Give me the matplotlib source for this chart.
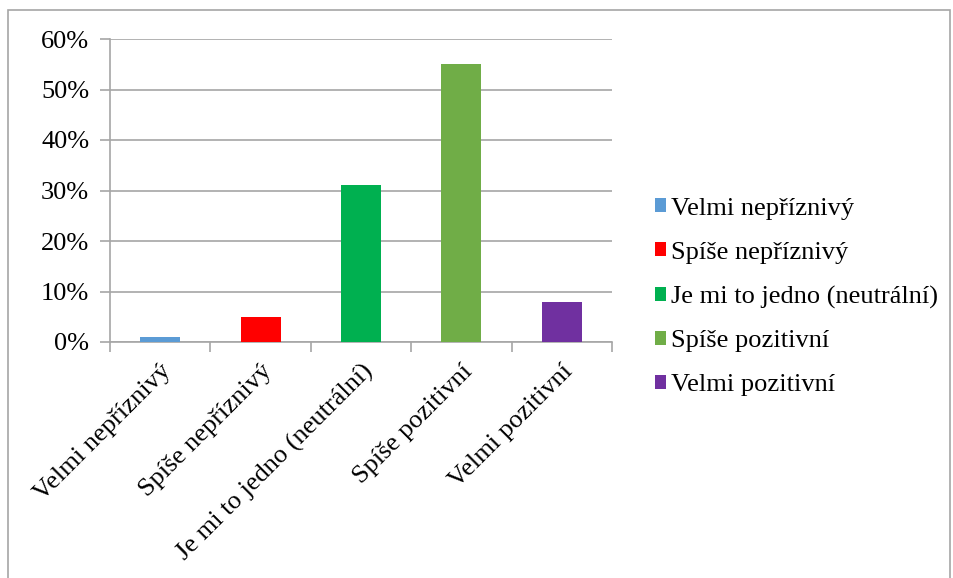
import matplotlib
matplotlib.use("Agg")
import matplotlib.pyplot as plt
from matplotlib.patches import Rectangle, Patch
from matplotlib.ticker import FuncFormatter, FixedLocator
import matplotlib.transforms as mtransforms

categories = ["Velmi nepříznivý", "Spíše nepříznivý", "Je mi to jedno (neutrální)",
              "Spíše pozitivní", "Velmi pozitivní"]
values = [1, 5, 31, 55, 8]
colors = ["#5B9BD5", "#FF0000", "#00B050", "#70AD47", "#7030A0"]
yticks = [0, 10, 20, 30, 40, 50, 60]

plt.rcParams['font.family'] = ['Liberation Serif', 'DejaVu Serif']
FS = 19

fig = plt.figure(figsize=(9.54, 5.78), dpi=100)
fig.patches.append(Rectangle((8/954, -0.1), (950-8)/954, 1.1 - 10/578, transform=fig.transFigure,
                             fill=False, edgecolor="#a6a6a6", linewidth=1.2))

ax = fig.add_axes([110/954, 1-342/578, (612-110)/954, (342-39)/578])
x = list(range(len(categories)))
ax.bar(x, values, width=0.4, color=colors, zorder=3)
ax.set_xlim(-0.5, len(categories)-0.5)
ax.set_ylim(0, 60)
ax.set_yticks(yticks)
ax.yaxis.set_major_formatter(FuncFormatter(lambda v, p: f"{int(v)}%"))
ax.grid(axis='y', color="#a6a6a6", linewidth=1.2, zorder=0)
ax.set_xticks(x)
ax.set_xticklabels(categories, rotation=45, ha='right', va='top', rotation_mode='anchor', fontsize=FS)
offset = mtransforms.ScaledTranslation(-12/100, 0, fig.dpi_scale_trans)
for lab in ax.get_xticklabels():
    lab.set_transform(lab.get_transform() + offset)
ax.xaxis.set_minor_locator(FixedLocator([i - 0.5 for i in range(len(categories)+1)]))
ax.tick_params(axis='x', which='major', length=0, pad=13)
ax.tick_params(axis='x', which='minor', length=7, color="#a6a6a6", width=1.2, direction='out')
ax.tick_params(axis='y', length=7, color="#a6a6a6", width=1.2, labelsize=FS, pad=8)
for s in ['top', 'right']:
    ax.spines[s].set_visible(False)
for s in ['left', 'bottom']:
    ax.spines[s].set_color("#a6a6a6")
    ax.spines[s].set_linewidth(1.2)

handles = [Patch(facecolor=c, edgecolor='none') for c in colors]
leg = fig.legend(handles, categories, loc='center left', bbox_to_anchor=(655/954, 1-297/578),
                 frameon=False, fontsize=FS, handlelength=0.42, handleheight=0.42,
                 handletextpad=0.2, labelspacing=0.83, borderpad=0, borderaxespad=0)

fig.savefig("out.png", dpi=100)
